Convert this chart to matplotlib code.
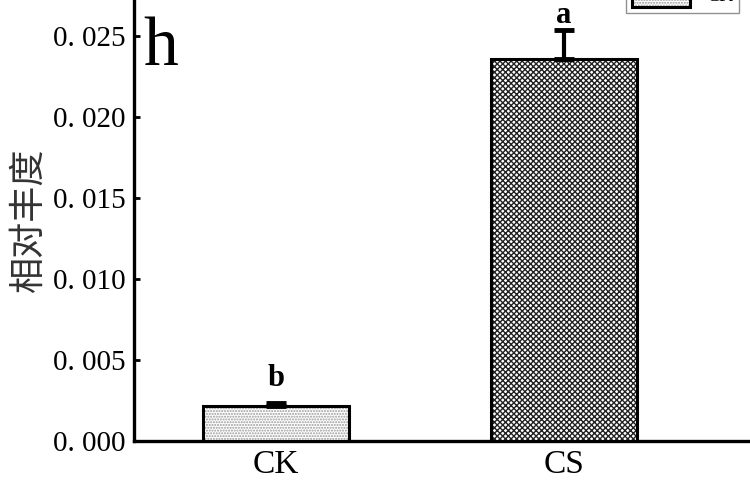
import matplotlib
matplotlib.use("Agg")
import matplotlib.pyplot as plt

groups = ["CK", "CS"]
means = [0.00215, 0.0236]
errs = [0.0002, 0.0018]
letters = ["b", "a"]
yticks = [0.000, 0.005, 0.010, 0.015, 0.020, 0.025]
ytick_labels = ["0. 000", "0. 005", "0. 010", "0. 015", "0. 020", "0. 025"]

serif = ["Liberation Serif", "DejaVu Serif"]
cjk = ["Noto Sans CJK SC", "DejaVu Sans"]

plt.rcParams["hatch.linewidth"] = 1.0

fig = plt.figure(figsize=(7.5, 5), dpi=100)
ax = fig.add_axes([0.1787, 0.118, 0.88, 0.972])

x = list(range(len(groups)))
styles = [dict(hatch="......", hcol="#999999"), dict(hatch="xxxxxx", hcol="#222222")]
letter_gap = [12, 5]  # points above the error cap
bars = []
for i in x:
    b = ax.bar(i, means[i], width=0.507, color="white", edgecolor="black",
               linewidth=2.2, zorder=3, label=groups[i])
    for p in b:
        p.set_hatch(styles[i]["hatch"])
        p._hatch_color = matplotlib.colors.to_rgba(styles[i]["hcol"])
    bars.append(b)
    ax.errorbar(i, means[i], yerr=[[0], [errs[i]]], fmt="none", ecolor="black",
                elinewidth=3, capsize=7.5, capthick=3.5, zorder=4)
    ax.annotate(letters[i], (i, means[i] + errs[i]), xytext=(0, letter_gap[i]),
                textcoords="offset points", ha="center", va="baseline",
                fontsize=22, fontweight="bold", family=serif)

ax.set_xlim(-0.493, 1.8)
ax.set_ylim(0, 0.030)
ax.set_yticks(yticks)
ax.set_yticklabels(ytick_labels, family=serif, fontsize=21)
ax.set_xticks(x)
ax.set_xticklabels(groups, family=serif, fontsize=24)
ax.tick_params(direction="in", length=4, width=2, pad=6)
for s in ["top", "right"]:
    ax.spines[s].set_visible(False)
for s in ["left", "bottom"]:
    ax.spines[s].set_linewidth(2.4)

ax.set_ylabel("相对丰度", family=cjk, fontsize=26, color="#333333")
ax.yaxis.set_label_coords(-0.133, 0.455)
ax.text(-0.462, 0.0232, "h", family=serif, fontsize=50, ha="left", va="baseline")

leg = fig.legend(handles=[bars[0]], labels=["CK"], loc="lower right",
                 bbox_to_anchor=(0.998, 0.955), prop={"family": serif, "size": 14},
                 frameon=True, fancybox=False, edgecolor="#777777",
                 handlelength=3, handleheight=1.6, borderpad=0.3)

fig.savefig("out.png", dpi=100)
